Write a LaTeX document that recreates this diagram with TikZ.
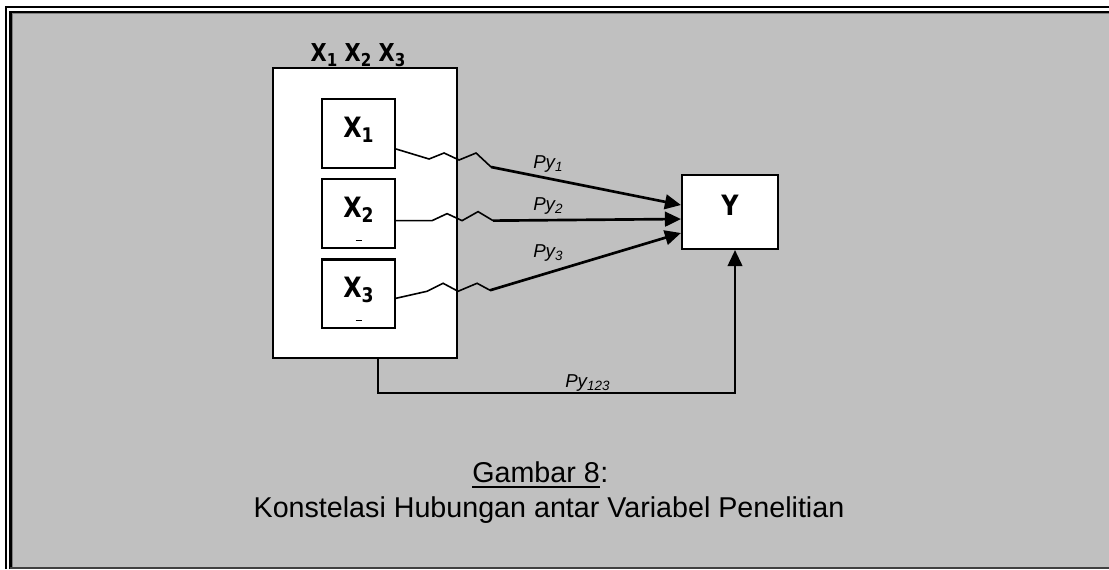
\documentclass[tikz,border=0pt]{standalone}
\usepackage{fontspec}
\setmainfont{Liberation Sans}
\newfontfamily\boxfont[FakeStretch=0.85]{DejaVu Sans}
\usepackage{tikz}
\usetikzlibrary{arrows.meta,positioning,calc}
\definecolor{bggray}{HTML}{C0C0C0}
\newcommand{\lowsub}[1]{\raisebox{-0.35ex}{\scalebox{0.72}{#1}}}

\begin{document}
\begin{tikzpicture}[x=0.75pt,y=-0.75pt,
    box/.style={draw,line width=1.6pt,fill=white,inner sep=0pt},
    varbox/.style={box,minimum width=54.75pt,minimum height=51.5pt},
    varlab/.style={font=\fontsize{21}{24}\selectfont\boxfont\bfseries,anchor=base,inner sep=0pt},
    toplab/.style={varlab,font=\fontsize{18.5}{22}\selectfont\boxfont\bfseries},
    pylab/.style={font=\fontsize{14}{16}\selectfont\itshape,anchor=base west,inner sep=0pt},
    zig/.style={line width=1.2pt,line join=miter},
    tip/.style={-{Triangle[length=12pt,width=11pt]}},
    arr/.style={line width=2pt,tip},
    capt/.style={font=\fontsize{21.5}{26}\selectfont,inner sep=0pt}]
    \useasboundingbox (0,0) rectangle (1109,569);
    \fill[white] (0,0) rectangle (1109,569);
    \fill[bggray] (12,13) rectangle (1109,569);
    \draw[line width=1.3pt] (5.8,569) -- (5.8,6.8) -- (1109,6.8);
    \draw[line width=1.7pt] (10.5,569) -- (10.5,12.2) -- (1109,12.2);
    \draw[line width=1pt,gray] (12.6,569) -- (12.6,13.8) -- (1109,13.8);
    \draw[line width=1.5pt,darkgray] (10,568) -- (1109,568);

    \node[box,minimum width=138pt,minimum height=217.5pt] (grp) at (365,213) {};
    \node[toplab] (top) at ($(grp.north)+(-7,-5)$) {X\lowsub{1} X\lowsub{2} X\lowsub{3}};
    \node[varbox] (x1) at (358.5,133.5) {};
    \node[varbox,below=7pt of x1] (x2) {};
    \node[varbox,below=7pt of x2] (x3) {};
    \foreach \i in {1,2,3}{
            \node[varlab] (l\i) at ($(x\i.north)+(0,39)$) {X\lowsub{\i}};
        }
    \foreach \i in {2,3}{
            \draw[line width=0.8pt] ($(x\i.south)+(-3,-9)$) -- ++(6,0);
        }
    \node[box,minimum width=72pt,minimum height=55.5pt] (y) at (730,212) {};
    \node[varlab,font=\fontsize{21}{24}\selectfont\boxfont\bfseries] (ly) at (730,215) {Y};

    \draw[zig] ($(x1.east)+(0,15.5)$) -- ++(33,10) -- ++(15,-6) -- ++(15,7) -- ++(17,-7) -- ++(15,14) coordinate (k1);
    \draw[zig] ($(x2.east)+(0,7)$) -- ++(36,0) -- ++(15,-7) -- ++(15,7) -- ++(16,-9) -- ++(15,9) coordinate (k2);
    \draw[zig] ($(x3.east)+(0,4.5)$) -- ++(31,-7) -- ++(16,-8) -- ++(15,8) -- ++(19,-8) -- ++(13,7) coordinate (k3);
    \draw[arr] (k1) -- ($(y.west)+(0,-7)$);
    \draw[arr] (k2) -- ($(y.west)+(0,7)$);
    \draw[arr] (k3) -- ($(y.west)+(0,21)$);
    \draw[line width=1.5pt,tip] ($(grp.south)+(13,0)$) -- ++(0,34) -| ($(y.south)+(5,0)$);

    \node[pylab] (py1) at (533,168) {Py\lowsub{1}};
    \node[pylab] (py2) at (533,210) {Py\lowsub{2}};
    \node[pylab] (py3) at (533,257) {Py\lowsub{3}};
    \node[pylab] (py123) at (565,387) {Py\lowsub{123}};

    \node[capt,anchor=base west] (gam) at (472,482) {Gambar 8};
    \node[capt,anchor=base west] (colon) at (gam.base east) {:};
    \draw[line width=1.5pt] ($(gam.base west)+(0,5)$) -- ($(gam.base east)+(0,5)$);
    \node[capt,anchor=base] (judul) at (549,517) {Konstelasi Hubungan antar Variabel Penelitian};
\end{tikzpicture}
\end{document}
